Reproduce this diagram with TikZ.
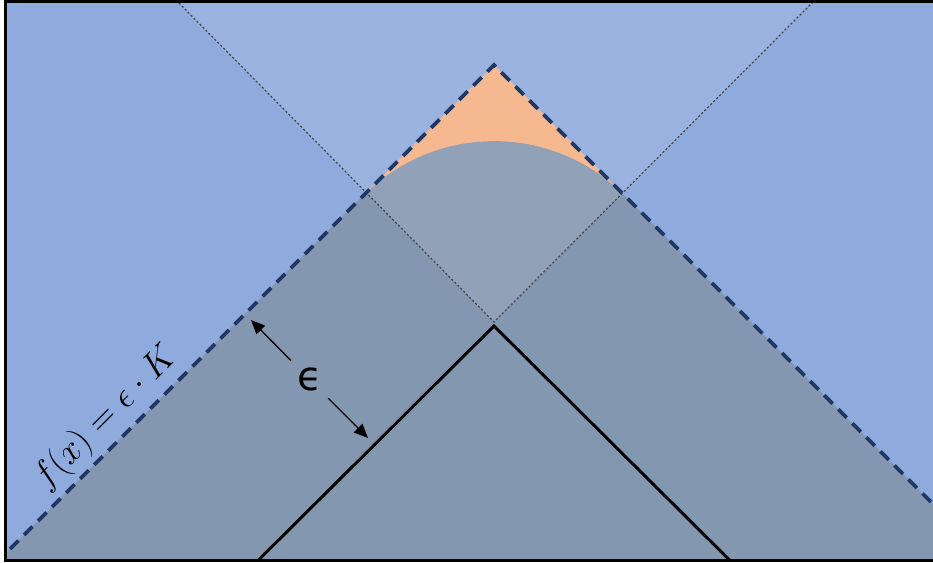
\documentclass[tikz,border=0pt]{standalone}
\usepackage{amsmath,amssymb}
\usepackage{fontspec}
\usepackage{xcolor}
\usetikzlibrary{arrows.meta,positioning}
\newfontfamily\epsfont{DejaVu Sans}
\definecolor{sideblue}{HTML}{8FAADC}
\definecolor{grayblue}{HTML}{8497B0}
\definecolor{peach}{HTML}{F4B183}
\definecolor{darkblue}{HTML}{203864}
\definecolor{dotgray}{HTML}{454545}

\begin{document}
\begin{tikzpicture}[x=0.02cm,y=-0.02cm,
  bound/.style={dash pattern=on 6.8pt off 4.5pt,line width=2.2pt,darkblue},
  guide/.style={dash pattern=on 1.2pt off 1.2pt,line width=0.7pt,dotgray},
  arr/.style={-{Triangle[length=0.28cm,width=0.24cm]},line width=0.75pt,black}]
\clip (0,0) rectangle (933,563);
% regions
\fill[sideblue] (5.5,1.5) rectangle (940,560.5);
\fill[peach] (364,195)--(494,65)--(624,195)--cycle;
\fill[grayblue] (5.5,553.5)--(364,195)
  arc[start angle=135,end angle=45,radius=3.677cm]
  --(940,511)--(940,560.5)--(5.5,560.5)--cycle;
\fill[white,opacity=0.1] (176,0)--(494,322)--(815,0)--cycle;
% lines
\coordinate (gl) at (176,0);
\coordinate (gm) at (494,322);
\coordinate (gr) at (815,0);
\draw[guide] (gl)--(gm)--(gr);
\coordinate (vl) at (258,560.5);
\coordinate (vm) at (494,326);
\coordinate (vr) at (730,560.5);
\draw[line width=1.7pt,line join=miter] (vl)--(vm)--(vr);
\coordinate (bl) at (10,549);
\coordinate (bm) at (494,65);
\coordinate (br) at (940,511);
\draw[bound] (bl)--(bm)--(br);
\draw[line width=1.2pt] (940,1.5)--(5.5,1.5)--(5.5,560.5)--(940,560.5);
% labels
\node[rotate=45,font=\fontsize{21}{24}\selectfont] (fx) at (106,418)
  {$f(x)=\epsilon\cdot K$};
\node[circle,minimum size=1.04cm,inner sep=0pt,font=\epsfont\fontsize{23}{26}\selectfont]
  (eps) at (309.5,379.5) {ϵ};
\coordinate (ea) at (251,320);
\coordinate (eb) at (368,438);
\draw[arr] (eps)--(ea);
\draw[arr] (eps)--(eb);
\end{tikzpicture}
\end{document}
